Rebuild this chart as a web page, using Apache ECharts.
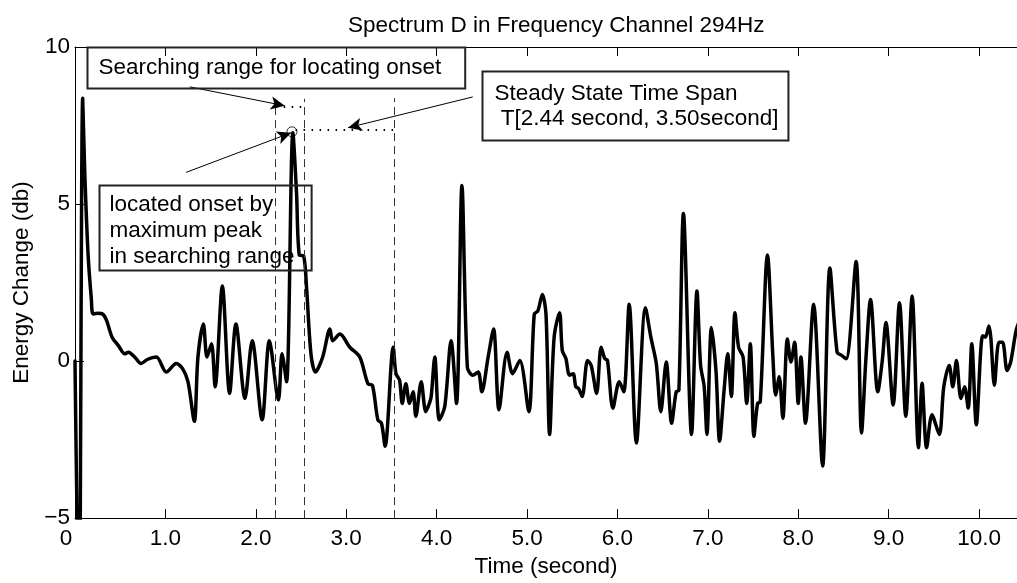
<!DOCTYPE html>
<html><head><meta charset="utf-8">
<script src="https://cdn.jsdelivr.net/npm/echarts@6/dist/echarts.min.js"></script>
<style>html,body{margin:0;padding:0;background:#fff}#c{width:1017px;height:583px}</style>
</head><body><div id="c"></div>
<script>
// ---- data ----
const timeSec = [0.00,0.045,0.085,0.108,0.145,0.18,0.20,0.25,0.31,0.35,0.41,0.48,0.55,0.59,0.66,0.73,0.80,0.90,1.01,1.12,1.19,1.25,1.32,1.36,1.42,1.46,1.51,1.55,1.63,1.71,1.78,1.88,1.96,2.07,2.15,2.25,2.29,2.34,2.41,2.45,2.48,2.53,2.56,2.61,2.66,2.74,2.82,2.85,2.93,3.04,3.15,3.24,3.29,3.35,3.39,3.43,3.52,3.55,3.59,3.62,3.66,3.70,3.74,3.77,3.83,3.88,3.92,3.94,3.98,4.03,4.09,4.16,4.22,4.28,4.34,4.40,4.46,4.50,4.57,4.63,4.69,4.78,4.84,4.92,5.02,5.08,5.12,5.17,5.21,5.25,5.30,5.36,5.39,5.43,5.47,5.51,5.54,5.57,5.61,5.67,5.71,5.77,5.82,5.86,5.89,5.95,6.02,6.07,6.13,6.21,6.31,6.37,6.43,6.48,6.54,6.60,6.65,6.68,6.73,6.82,6.88,6.92,6.96,6.99,7.04,7.09,7.13,7.18,7.22,7.26,7.30,7.34,7.39,7.43,7.47,7.51,7.55,7.58,7.66,7.72,7.75,7.79,7.83,7.88,7.92,7.96,8.00,8.03,8.08,8.17,8.27,8.35,8.43,8.48,8.53,8.64,8.70,8.75,8.80,8.88,8.93,8.97,9.05,9.12,9.19,9.26,9.33,9.37,9.42,9.48,9.56,9.61,9.67,9.71,9.75,9.80,9.84,9.88,9.92,9.97,10.04,10.07,10.11,10.13,10.17,10.22,10.26,10.31,10.35,10.41,10.45];
const energyDb = [0.0,-9.0,8.37,6.0,3.38,2.0,1.5,1.52,1.49,1.29,0.76,0.49,0.23,0.28,0.13,-0.08,0.05,0.13,-0.35,-0.08,-0.24,-0.66,-1.92,0.13,1.18,0.13,0.55,-0.82,2.39,-1.03,1.18,-1.19,0.65,-1.87,0.65,-1.24,0.23,-0.66,7.27,5.38,3.38,3.34,2.4,0.23,-0.35,0.13,1.02,0.65,0.86,0.44,0.13,-0.72,-0.77,-1.87,-1.98,-2.71,0.44,-0.4,-0.61,-1.35,-0.72,-1.35,-0.98,-1.76,-0.66,-1.61,-1.35,-1.13,0.13,-1.87,-1.45,0.65,-1.35,5.59,-0.19,-0.45,-0.35,-0.98,0.13,1.02,-1.55,0.28,-0.4,0.02,-1.61,1.49,1.6,2.12,1.49,-2.34,0.76,1.54,0.34,0.08,-0.45,-0.4,-0.82,-0.87,-1.13,0.02,-0.14,-1.03,0.44,0.08,0.02,-1.5,-0.66,-0.98,1.81,-2.61,1.7,0.76,-0.08,-1.61,-0.03,-1.98,-0.98,-0.93,4.7,-2.34,2.23,-0.14,-0.82,-2.34,1.07,-0.3,-2.55,-0.93,0.23,-1.13,1.54,0.44,0.13,-1.35,0.55,-2.4,-1.35,-1.3,3.38,0.13,-1.08,-0.5,-1.82,0.7,-0.03,0.6,-1.35,0.13,-1.98,1.81,-3.34,2.96,0.28,0.18,0.07,3.17,-2.29,0.13,1.96,-0.98,0.02,1.23,-1.4,1.86,-1.76,2.07,-2.76,-0.71,-2.76,-1.71,-2.34,-0.82,-0.14,-0.82,0.02,-1.19,-0.82,-1.5,0.55,-2.03,0.81,0.76,1.12,0.76,-0.77,0.6,0.6,-0.3,-0.03,0.97,1.3];
const peakPoint = [2.40, 7.30];
const xTickLabels = ['0','1.0','2.0','3.0','4.0','5.0','6.0','7.0','8.0','9.0','10.0'];
const yTickValues = [-5, 0, 5, 10];
const yTickLabels = ['\u22125', '0', '5', '10'];
const searchRange = [2.22, 2.54];
const steadySpan = [2.44, 3.53];

// ---- chart ----
const FONT = "'Liberation Sans', Arial, Helvetica, sans-serif";
const FS = 22.5;
const chart = echarts.init(document.getElementById('c'), null, {renderer: 'canvas'});

const curve = timeSec.map((t, i) => [t, energyDb[i]]);

const dashedStyle = {color: '#333', width: 1, type: [8, 5]};
const dottedStyle = {color: '#000', width: 2, type: [1.5, 6.5]};
const arrowStyle = {color: '#000', width: 1, type: 'solid'};

const markLines = [
  [{coord: [searchRange[0], -5], lineStyle: dashedStyle}, {coord: [searchRange[0], 8.35]}],
  [{coord: [searchRange[1], -5], lineStyle: dashedStyle}, {coord: [searchRange[1], 8.35]}],
  [{coord: [steadySpan[1], -5], lineStyle: dashedStyle}, {coord: [steadySpan[1], 8.37]}],
  [{coord: [searchRange[0], 8.09], lineStyle: dottedStyle}, {coord: [searchRange[1], 8.09]}],
  [{coord: [steadySpan[0], 7.37], lineStyle: dottedStyle}, {coord: [steadySpan[1], 7.37]}],
  [{coord: [1.27, 8.73], lineStyle: arrowStyle, symbol: 'none'}, {coord: [2.32, 8.13], symbol: 'arrow'}],
  [{coord: [1.23, 6.01], lineStyle: arrowStyle, symbol: 'none'}, {coord: [2.39, 7.27], symbol: 'arrow'}],
  [{coord: [4.40, 8.41], lineStyle: arrowStyle, symbol: 'none'}, {coord: [3.02, 7.43], symbol: 'arrow'}]
].map(pair => {
  const isArrow = pair[1].symbol === 'arrow';
  return [Object.assign({symbol: 'none'}, pair[0]), Object.assign({symbol: isArrow ? 'arrow' : 'none', symbolSize: isArrow ? [10, 14] : 0}, pair[1])];
});

const axisCommon = {
  type: 'value', min: 0, max: 10.42, interval: 1,
  splitLine: {show: false},
  axisLine: {show: true, onZero: false, lineStyle: {color: '#000', width: 1}},
  axisTick: {show: true, inside: true, length: 9, lineStyle: {color: '#000', width: 1}}
};

chart.setOption({
  animation: false,
  backgroundColor: '#fff',
  title: {
    text: 'Spectrum D in Frequency Channel 294Hz',
    left: 343, top: 9,
    textStyle: {fontFamily: FONT, fontSize: FS, fontWeight: 'normal', color: '#000'}
  },
  grid: {left: 75, right: -1, top: 47, bottom: 60, containLabel: false},
  xAxis: [
    Object.assign({}, axisCommon, {
      position: 'bottom',
      name: 'Time (second)', nameLocation: 'middle', nameGap: 33,
      nameTextStyle: {fontFamily: FONT, fontSize: FS, color: '#000'},
      axisLabel: {
        fontFamily: FONT, fontSize: FS, color: '#000', margin: 9, showMaxLabel: false,
        formatter: v => {
          const i = Math.round(v);
          if (Math.abs(v - i) > 1e-6 || i < 0 || i >= xTickLabels.length) return '';
          return i === 0 ? '{z|' + xTickLabels[0] + '}' : xTickLabels[i];
        },
        rich: {z: {fontFamily: FONT, fontSize: FS, color: '#000', padding: [0, 18, 0, 0]}}
      }
    }),
    Object.assign({}, axisCommon, {position: 'top', axisLabel: {show: false}})
  ],
  yAxis: {
    type: 'value', min: -5, max: 10, interval: 5,
    name: 'Energy Change (db)', nameLocation: 'middle', nameGap: 41, nameRotate: 90,
    nameTextStyle: {fontFamily: FONT, fontSize: FS, color: '#000'},
    splitLine: {show: false},
    axisLine: {show: true, lineStyle: {color: '#000', width: 1}},
    axisTick: {show: true, inside: true, length: 9, lineStyle: {color: '#000', width: 1}},
    axisLabel: {
      fontFamily: FONT, fontSize: FS, color: '#000', margin: 5,
      formatter: v => { const k = yTickValues.indexOf(v); return k >= 0 ? yTickLabels[k] : ''; }
    }
  },
  series: [
    {
      type: 'line', data: curve, showSymbol: false, smooth: 0.3,
      lineStyle: {color: '#000', width: 3.5, join: 'round', cap: 'round'},
      clip: true, silent: true,
      markLine: {silent: true, animation: false, label: {show: false}, emphasis: {disabled: true}, data: markLines}
    },
    {
      type: 'scatter', data: [peakPoint], symbol: 'circle', symbolSize: 10, silent: true,
      itemStyle: {color: 'rgba(0,0,0,0)', borderColor: '#000', borderWidth: 1}
    }
  ]
});

// ---- annotation boxes, anchored in data coordinates ----
const boxes = [
  {anchor: [0.13, 10.0], text: 'Searching range for locating onset', padding: [8, 24, 8, 11], lineHeight: 25},
  {anchor: [4.507, 9.23], text: 'Steady State Time Span\n T[2.44 second, 3.50second]', padding: [10, 10, 9, 12], lineHeight: 25},
  {anchor: [0.266, 5.61], text: 'located onset by\nmaximum peak\nin searching range', padding: [6, 17, 1, 10], lineHeight: 26}
];
chart.setOption({
  graphic: boxes.map(b => {
    const p = chart.convertToPixel({gridIndex: 0}, b.anchor);
    return {
      type: 'text', x: Math.round(p[0]) + 0.5, y: Math.round(p[1]) + 0.5, silent: true, z: 10,
      style: {
        text: b.text, fontFamily: FONT, fontSize: FS, fill: '#000', lineHeight: b.lineHeight,
        align: 'left', verticalAlign: 'top',
        borderColor: '#222', borderWidth: 1, padding: b.padding, backgroundColor: 'transparent'
      }
    };
  })
});
</script></body></html>
